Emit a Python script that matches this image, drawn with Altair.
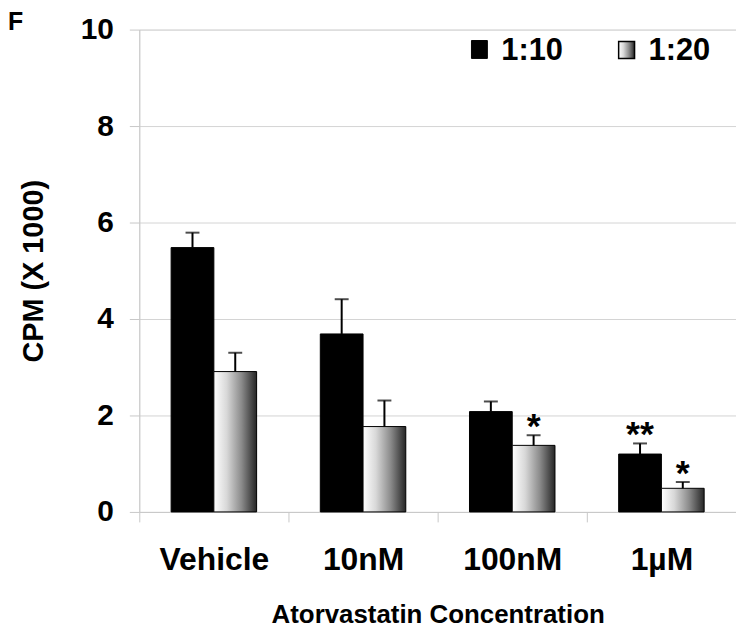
import altair as alt
import pandas as pd

categories = ["Vehicle", "10nM", "100nM", "1\u00b5M"]
series = ["1:10", "1:20"]
vals_110 = [5.48, 3.69, 2.08, 1.20]
errs_110 = [0.31, 0.72, 0.21, 0.22]
vals_120 = [2.91, 1.77, 1.38, 0.49]
errs_120 = [0.39, 0.54, 0.21, 0.13]
stars_110 = ["", "", "", "**"]
stars_120 = ["", "", "*", "*"]

rows = []
for i, c in enumerate(categories):
    rows.append(dict(cat=c, ser="1:10", v=vals_110[i], e=errs_110[i], top=vals_110[i] + errs_110[i], star=stars_110[i]))
    rows.append(dict(cat=c, ser="1:20", v=vals_120[i], e=errs_120[i], top=vals_120[i] + errs_120[i], star=stars_120[i]))
df = pd.DataFrame(rows)

FONT = "Liberation Sans"
grad = alt.Gradient(
    gradient="linear",
    stops=[
        alt.GradientStop(color="#ffffff", offset=0),
        alt.GradientStop(color="#d8d8d8", offset=0.3),
        alt.GradientStop(color="#8a8a8a", offset=0.65),
        alt.GradientStop(color="#262626", offset=1),
    ],
    x1=0, x2=1, y1=0, y2=0,
)

x_enc = alt.X(
    "cat:N", sort=categories,
    scale=alt.Scale(paddingInner=0, paddingOuter=0),
    axis=alt.Axis(
        title="Atorvastatin Concentration", labelAngle=0, tickBand="extent",
        labelFont=FONT, labelFontSize=32, labelFontWeight="bold", labelColor="black",
        labelPadding=23, tickSize=10, tickColor="#c8c8c8", domainColor="#c8c8c8",
        titleFont=FONT, titleFontSize=26, titleFontWeight="bold", titleColor="black",
        titlePadding=26,
    ),
)
xo_enc = alt.XOffset("ser:N", sort=series, scale=alt.Scale(paddingOuter=0.745, paddingInner=0))
y_scale = alt.Scale(domain=[0, 10])
y_axis = alt.Axis(
    title="CPM (X 1000)", values=[0, 2, 4, 6, 8, 10], grid=True, gridColor="#d4d4d4",
    labelFont=FONT, labelFontSize=30, labelFontWeight="bold", labelColor="black",
    labelPadding=16, tickSize=10, tickColor="#c8c8c8", domainColor="#c8c8c8",
    titleFont=FONT, titleFontSize=29, titleFontWeight="bold", titleColor="black",
    titlePadding=32,
)

base = alt.Chart(df)

bars_black = base.transform_filter(alt.datum.ser == "1:10").mark_bar(
    fill="black", stroke="black", strokeWidth=1
).encode(x=x_enc, xOffset=xo_enc, y=alt.Y("v:Q", scale=y_scale, axis=y_axis))

bars_grad = base.transform_filter(alt.datum.ser == "1:20").mark_bar(
    fill=grad, stroke="black", strokeWidth=1
).encode(x=x_enc, xOffset=xo_enc, y=alt.Y("v:Q", scale=y_scale, axis=y_axis))

err = base.mark_rule(color="black", strokeWidth=2).encode(
    x=x_enc, xOffset=xo_enc, y=alt.Y("v:Q", scale=y_scale), y2="top:Q"
)
caps = base.mark_tick(color="black", size=14, thickness=2, orient="horizontal").encode(
    x=x_enc, xOffset=xo_enc, y=alt.Y("top:Q", scale=y_scale)
)
stars = base.mark_text(font=FONT, fontSize=36, fontWeight="bold", color="black", baseline="middle", dy=-8).encode(
    x=x_enc, xOffset=xo_enc, y=alt.Y("top:Q", scale=y_scale), text="star:N"
)

# Legend
leg_df = pd.DataFrame({"lab": series})
leg_sq1 = alt.Chart(leg_df).transform_filter(alt.datum.lab == "1:10").mark_rect(fill="black", stroke="black").encode(
    x=alt.value(334), x2=alt.value(350), y=alt.value(11), y2=alt.value(29)
)
leg_sq2 = alt.Chart(leg_df).transform_filter(alt.datum.lab == "1:20").mark_rect(fill=grad, stroke="black", strokeWidth=1.5).encode(
    x=alt.value(482), x2=alt.value(498), y=alt.value(12), y2=alt.value(29)
)
leg_t1 = alt.Chart(leg_df).transform_filter(alt.datum.lab == "1:10").mark_text(
    font=FONT, fontSize=31, fontWeight="bold", align="left", baseline="alphabetic", color="black"
).encode(x=alt.value(364), y=alt.value(31), text="lab:N")
leg_t2 = alt.Chart(leg_df).transform_filter(alt.datum.lab == "1:20").mark_text(
    font=FONT, fontSize=31, fontWeight="bold", align="left", baseline="alphabetic", color="black"
).encode(x=alt.value(512), y=alt.value(31), text="lab:N")
panel = alt.Chart(pd.DataFrame({"t": ["F"]})).mark_text(
    font=FONT, fontSize=25, fontWeight="bold", align="left", baseline="top", color="black"
).encode(x=alt.value(-132), y=alt.value(-20), text="t:N")

chart = alt.layer(
    bars_black, bars_grad, err, caps, stars, leg_sq1, leg_sq2, leg_t1, leg_t2, panel
).properties(
    width=600, height=485,
    autosize=alt.AutoSizeParams(type="none"),
    padding={"left": 132, "top": 20, "right": 0, "bottom": 115},
).configure_view(stroke=None).configure(background="white")

chart.save("out.html", embed_options={"renderer": "svg", "actions": False})
